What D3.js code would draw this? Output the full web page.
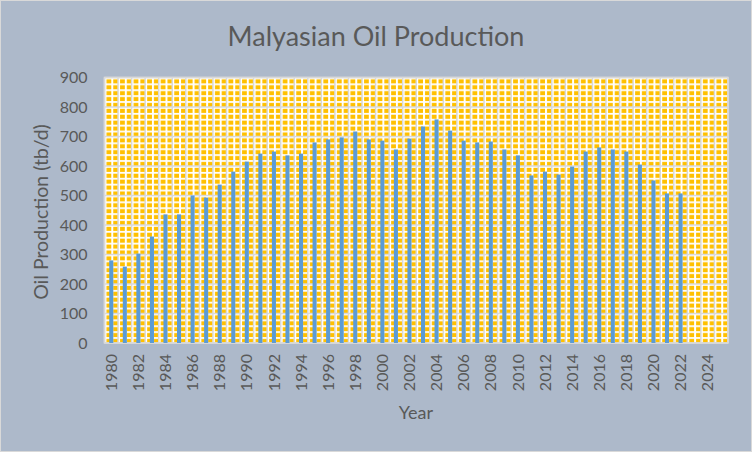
<!DOCTYPE html>
<html>
<head>
<meta charset="utf-8">
<script src="https://cdn.jsdelivr.net/npm/d3@7"></script>
<style>
  html, body { margin: 0; padding: 0; background: #ADB9CA; }
  svg { display: block; }
  text { font-family: Lato, "Open Sans", sans-serif; fill: #595959; }
</style>
</head>
<body>
<svg id="chart" width="752" height="452"></svg>
<script>
const years = d3.range(1980, 2026);
const dataYears = [1980,1981,1982,1983,1984,1985,1986,1987,1988,1989,1990,1991,1992,1993,1994,1995,1996,1997,1998,1999,2000,2001,2002,2003,2004,2005,2006,2007,2008,2009,2010,2011,2012,2013,2014,2015,2016,2017,2018,2019,2020,2021,2022];
const production = [280,259,303,361,436,436,500,493,537,581,615,642,649,636,642,680,690,697,717,690,686,656,693,734,758,720,686,680,683,656,636,568,581,571,598,649,663,656,649,605,551,507,507];
const yTicks = [0,100,200,300,400,500,600,700,800,900];
const xTickLabels = years.filter(y => y % 2 === 0);

const W = 752, H = 452;
const plot = {left: 104.5, right: 728, top: 77.5, bottom: 343};

const svg = d3.select("#chart");

svg.append("rect").attr("x", 0.5).attr("y", 0.5).attr("width", W - 1).attr("height", H - 1)
  .attr("fill", "#ADB9CA").attr("stroke", "#D9D9D9").attr("stroke-width", 1);

const x = d3.scaleBand().domain(years).range([plot.left, plot.right]).paddingInner(0.7).paddingOuter(0.35);
const y = d3.scaleLinear().domain([0, 900]).range([plot.bottom, plot.top]);

const cellW = x.step() / 2;
const cellH = (y(0) - y(100)) / 5;
const defs = svg.append("defs");
const pat = defs.append("pattern").attr("id", "grid").attr("patternUnits", "userSpaceOnUse")
  .attr("x", plot.left).attr("y", plot.top).attr("width", cellW).attr("height", cellH);
pat.append("rect").attr("width", cellW).attr("height", cellH).attr("fill", "#FFFFFF");
pat.append("rect").attr("x", 2).attr("y", 1.8).attr("width", cellW - 2).attr("height", cellH - 1.8).attr("fill", "#FFC000");

svg.append("rect").attr("x", plot.left).attr("y", plot.top)
  .attr("width", plot.right - plot.left).attr("height", plot.bottom - plot.top)
  .attr("fill", "url(#grid)");

const g = svg.append("g");
g.selectAll("line.h").data(yTicks).join("line").attr("class", "h")
  .attr("x1", plot.left).attr("x2", plot.right)
  .attr("y1", d => y(d)).attr("y2", d => y(d))
  .attr("stroke", "#D9D9D9").attr("stroke-width", 1.5);
g.selectAll("line.v").data(years.concat([null])).join("line").attr("class", "v")
  .attr("x1", (d, i) => plot.left + i * x.step()).attr("x2", (d, i) => plot.left + i * x.step())
  .attr("y1", plot.top).attr("y2", plot.bottom)
  .attr("stroke", "#D9D9D9").attr("stroke-width", 1.5);

svg.append("rect").attr("x", plot.left).attr("y", plot.top)
  .attr("width", plot.right - plot.left).attr("height", plot.bottom - plot.top)
  .attr("fill", "none").attr("stroke", "#D9D9D9").attr("stroke-width", 1.5);

svg.append("g").selectAll("rect").data(dataYears.map((yr, i) => ({yr, v: production[i]})))
  .join("rect")
  .attr("x", d => x(d.yr)).attr("width", x.bandwidth())
  .attr("y", d => y(d.v)).attr("height", d => y(0) - y(d.v))
  .attr("fill", "#5B9BD5");

const yAxis = d3.axisLeft(y).tickValues(yTicks).tickSize(0).tickPadding(17);
const ya = svg.append("g").attr("transform", `translate(${plot.left},0)`).call(yAxis);
ya.select(".domain").remove();
ya.selectAll("text").style("font-size", "16px").attr("fill", "#595959").style("font-family", "Lato, sans-serif");

const xAxis = d3.axisBottom(x).tickValues(xTickLabels).tickSize(0).tickPadding(0);
const xa = svg.append("g").attr("transform", `translate(0,${plot.bottom})`).call(xAxis);
xa.select(".domain").remove();
xa.selectAll("text")
  .style("font-size", "16px").attr("fill", "#595959").style("font-family", "Lato, sans-serif")
  .attr("text-anchor", "end").attr("dy", "0.35em")
  .attr("transform", "translate(0,11) rotate(-90)")
  .attr("x", 0).attr("y", 0);

svg.append("text").attr("x", 376).attr("y", 46).attr("text-anchor", "middle")
  .style("font-size", "27px").text("Malyasian Oil Production");
svg.append("text").attr("transform", "translate(48,212) rotate(-90)").attr("text-anchor", "middle")
  .style("font-size", "19.5px").text("Oil Production (tb/d)");
svg.append("text").attr("x", 416).attr("y", 419).attr("text-anchor", "middle")
  .style("font-size", "18px").text("Year");
</script>
</body>
</html>
